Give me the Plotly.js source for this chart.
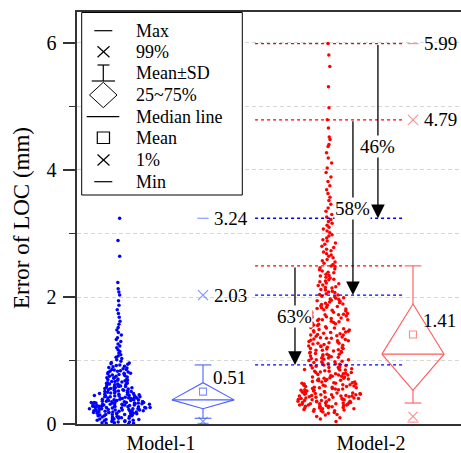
<!DOCTYPE html>
<html><head><meta charset="utf-8">
<script src="https://cdn.plot.ly/plotly-3.0.1.min.js"></script>
<style>html,body{margin:0;padding:0;background:#fff}#chart{width:461px;height:453px}</style>
</head><body><div id="chart"></div>
<script>
// ---------- data ----------
const categories = ['Model-1', 'Model-2'];

const model1Values = [
0.00,0.01,0.01,0.02,0.02,0.03,0.03,0.04,0.04,0.05,0.05,0.05,0.06,0.06,0.07,0.07,0.08,0.08,0.08,0.09,
0.09,0.10,0.10,0.11,0.11,0.11,0.12,0.12,0.13,0.13,0.13,0.14,0.14,0.15,0.15,0.15,0.16,0.16,0.16,0.17,
0.17,0.17,0.18,0.18,0.18,0.19,0.19,0.19,0.19,0.20,0.20,0.20,0.21,0.21,0.21,0.21,0.22,0.22,0.22,0.22,
0.23,0.23,0.23,0.23,0.24,0.24,0.24,0.24,0.25,0.25,0.25,0.25,0.26,0.26,0.26,0.26,0.27,0.27,0.27,0.27,
0.28,0.28,0.28,0.28,0.29,0.29,0.29,0.29,0.30,0.30,0.30,0.30,0.31,0.31,0.31,0.31,0.32,0.32,0.32,0.32,
0.33,0.33,0.33,0.33,0.34,0.34,0.34,0.34,0.35,0.35,0.35,0.35,0.36,0.36,0.36,0.37,0.37,0.37,0.37,0.38,
0.38,0.38,0.39,0.39,0.39,0.40,0.40,0.40,0.41,0.41,0.41,0.42,0.42,0.42,0.43,0.43,0.43,0.44,0.44,0.44,
0.45,0.45,0.45,0.46,0.46,0.47,0.47,0.47,0.48,0.48,0.49,0.49,0.49,0.50,0.50,0.51,0.51,0.51,0.52,0.52,
0.53,0.53,0.54,0.54,0.55,0.55,0.56,0.56,0.57,0.57,0.58,0.58,0.59,0.59,0.60,0.60,0.61,0.61,0.62,0.62,
0.63,0.63,0.64,0.64,0.65,0.65,0.66,0.67,0.67,0.68,0.69,0.69,0.70,0.71,0.71,0.72,0.73,0.73,0.74,0.75,
0.75,0.76,0.77,0.78,0.78,0.79,0.80,0.80,0.81,0.82,0.83,0.83,0.84,0.85,0.86,0.86,0.87,0.88,0.89,0.90,
0.91,0.92,0.93,0.94,0.95,0.96,0.97,0.99,
1.01,1.03,1.05,1.07,1.09,1.12,1.14,1.17,1.20,1.23,1.26,1.30,1.33,1.36,1.40,1.44,1.48,1.52,1.57,1.62,
1.68,1.74,1.80,1.87,1.94,2.03,2.08,2.13,2.23,2.64,2.89,3.24
];

const model2Values = [
0.04,0.08,0.10,0.12,0.14,0.15,0.17,0.18,0.19,0.20,0.21,0.21,0.22,0.23,0.23,0.24,0.24,0.25,0.25,0.26,
0.26,0.27,0.27,0.28,0.28,0.28,0.29,0.29,0.30,0.30,0.30,0.31,0.31,0.32,0.32,0.32,0.33,0.33,0.34,0.34,
0.34,0.35,0.35,0.36,0.36,0.36,0.37,0.37,0.38,0.38,0.38,0.39,0.39,0.40,0.40,0.40,0.41,0.41,0.42,0.42,
0.42,0.43,0.43,0.44,0.44,0.44,0.45,0.45,0.46,0.46,0.46,0.47,0.47,0.48,0.48,0.48,0.49,0.49,0.50,0.50,
0.51,0.51,0.52,0.52,0.53,0.53,0.54,0.54,0.55,0.55,0.56,0.56,0.57,0.57,0.58,0.58,0.59,0.59,0.60,0.60,
0.61,0.61,0.62,0.62,0.63,0.63,0.64,0.64,0.65,0.65,0.66,0.66,0.67,0.68,0.68,0.69,0.69,0.70,0.71,0.71,
0.72,0.72,0.73,0.74,0.74,0.75,0.75,0.76,0.77,0.77,0.78,0.79,0.79,0.80,0.81,0.81,0.82,0.83,0.83,0.84,
0.85,0.85,0.86,0.87,0.87,0.88,0.89,0.89,
0.90,0.91,0.92,0.92,0.93,0.94,0.95,0.95,0.96,0.97,0.98,0.98,0.99,1.00,1.01,1.01,1.02,1.03,1.04,1.04,
1.05,1.06,1.07,1.07,1.08,1.09,1.10,1.10,1.11,1.12,1.13,1.13,1.14,1.15,1.16,1.16,1.17,1.18,1.19,1.19,
1.20,1.21,1.22,1.23,1.23,1.24,1.25,1.26,1.27,1.27,1.28,1.29,1.30,1.31,1.31,1.32,1.33,1.34,1.35,1.35,
1.36,1.37,1.38,1.39,1.40,1.40,1.41,1.42,1.43,1.44,1.45,1.45,1.46,1.47,1.48,1.49,1.50,1.51,1.51,1.52,
1.53,1.54,1.55,1.56,1.57,1.57,1.58,1.59,1.60,1.61,1.62,1.63,1.64,1.64,1.65,1.66,1.67,1.68,1.69,1.70,
1.71,1.72,1.72,1.73,1.74,1.75,1.76,1.77,1.78,1.79,1.80,1.81,1.82,1.83,1.84,1.85,1.86,1.87,1.88,1.89,
1.90,1.91,1.92,1.93,1.94,1.95,1.96,1.97,1.98,1.99,
2.00,2.01,2.03,2.04,2.05,2.07,2.08,2.09,2.11,2.12,2.14,2.15,2.16,2.18,2.19,2.21,2.22,2.24,2.25,2.27,
2.28,2.30,2.31,2.33,2.34,2.36,2.38,2.39,2.41,2.43,2.44,2.46,2.48,2.49,
2.51,2.53,2.55,2.57,2.59,2.62,2.64,2.66,2.68,2.71,2.73,2.75,2.78,2.80,2.83,2.85,2.88,2.90,2.93,2.96,
2.98,3.01,3.04,3.07,3.10,3.13,3.16,3.19,
3.22,3.26,3.30,3.35,3.40,3.46,3.52,3.57,3.63,3.69,3.75,3.82,3.89,3.96,4.03,4.11,4.19,4.27,4.37,4.40,
4.48,4.52,4.66,4.79,4.98,5.31,5.63,5.81,5.99
];

// summary statistics per model (Model-1, Model-2)
const statMax    = [3.24, 5.99];
const statP99    = [2.03, 4.79];
const statMean   = [0.51, 1.41];
const statSD     = [0.42, 1.08];
const statQ1     = [0.24, 0.53];
const statMedian = [0.38, 1.10];
const statQ3     = [0.65, 1.89];
const statP1     = [0.04, 0.12];
const statMin    = [0.01, 0.03];

const dropLabels = ['46%', '58%', '63%'];
const legendLabels = ['Max', '99%', 'Mean±SD', '25~75%', 'Median line', 'Mean', '1%', 'Min'];

// ---------- styling / layout constants ----------
const FONT = 'Liberation Serif';
const pointColors = ['#0000ff', '#ff0000'];
const boxColors = ['#4a62ff', '#ff5a5a'];
const swarmBands = [
  [{lo: -1, hi: 0.5, w: 0.30}, {lo: 0.5, hi: 0.98, w: 0.17}, {lo: 0.98, hi: 99, w: 0.035}],
  [{lo: -1, hi: 0.9, w: 0.30}, {lo: 0.9, hi: 2.0, w: 0.21}, {lo: 2.0, hi: 2.5, w: 0.11},
   {lo: 2.5, hi: 3.2, w: 0.075}, {lo: 3.2, hi: 99, w: 0.035}]
];
const HW = 0.148;   // diamond half width
const CW = 0.04;    // whisker cap half width
const seriesVals = [model1Values, model2Values];

const traces = [];
// jittered points (plotly's own density-scaled jitter)
seriesVals.forEach((vals, i) => {
  swarmBands[i].forEach(b => {
    traces.push({
      type: 'box', y: vals.filter(v => v >= b.lo && v < b.hi), x0: i + 1 - 0.2, width: b.w,
      boxpoints: 'all', jitter: 1, pointpos: 0, whiskerwidth: 0,
      marker: {color: pointColors[i], size: 3.5}, line: {width: 0, color: 'rgba(0,0,0,0)'},
      fillcolor: 'rgba(0,0,0,0)', showlegend: false, hoverinfo: 'skip'
    });
  });
});
// box statistics: diamond (25~75%), median line, Mean±SD whiskers, markers
categories.forEach((c, i) => {
  const xc = i + 1 + 0.2;
  const up = statMean[i] + statSD[i], lo = statMean[i] - statSD[i];
  traces.push({
    type: 'scatter', mode: 'lines', showlegend: false, hoverinfo: 'skip',
    x: [xc - HW, xc, xc + HW, xc, xc - HW, null, xc - HW, xc + HW, null, xc, xc, null, xc - CW, xc + CW, null, xc, xc, null, xc - CW, xc + CW],
    y: [statMedian[i], statQ3[i], statMedian[i], statQ1[i], statMedian[i], null, statMedian[i], statMedian[i], null,
        statQ3[i], up, null, up, up, null, statQ1[i], lo, null, lo, lo],
    line: {color: boxColors[i], width: 1.1}
  });
  traces.push({
    type: 'scatter', mode: 'markers', showlegend: false, hoverinfo: 'skip',
    x: [xc, xc, xc, xc, xc],
    y: [statMean[i], statMax[i], statP99[i], statP1[i], statMin[i]],
    marker: {symbol: ['square-open', 'line-ew-open', 'x-thin-open', 'x-thin-open', 'line-ew-open'],
             size: [7, 8, 10, 9, 8], color: boxColors[i], line: {color: boxColors[i], width: 1.1}}
  });
});

// ---------- shapes & annotations ----------
const shapes = [];
const annotations = [];
const lineX0 = 1.448, lineX1 = 2.148;
const refFrom = [statMax[1], statP99[1], statMean[1] + statSD[1]];
const refTo = [statMax[0], statP99[0], statMean[0] + statSD[0]];
refFrom.forEach(v => shapes.push({type: 'line', xref: 'x', yref: 'y', x0: lineX0, x1: lineX1, y0: v, y1: v,
  line: {color: '#ff0000', width: 1.3, dash: 'dot'}}));
refTo.forEach(v => shapes.push({type: 'line', xref: 'x', yref: 'y', x0: lineX0, x1: lineX1, y0: v, y1: v,
  line: {color: '#0000ff', width: 1.3, dash: 'dot'}}));

const arrowX = [2.033, 1.914, 1.638];
const labelY = [4.37, 3.40, 1.69];
dropLabels.forEach((t, k) => {
  annotations.push({x: arrowX[k], y: refTo[k], ax: arrowX[k], ay: refFrom[k], axref: 'x', ayref: 'y',
    xref: 'x', yref: 'y', text: '', showarrow: true, arrowhead: 2, arrowsize: 2.1, arrowwidth: 1.3,
    arrowcolor: '#000', standoff: 0});
  annotations.push({x: arrowX[k], y: labelY[k], xref: 'x', yref: 'y', text: t, showarrow: false,
    bgcolor: '#fff', borderpad: 0, font: {family: FONT, size: 19, color: '#000'}});
});

categories.forEach((c, i) => {
  const xc = i + 1 + 0.2;
  [statMax[i], statP99[i]].forEach(v => annotations.push({x: xc + 0.042, y: v, xref: 'x', yref: 'y',
    text: v.toFixed(2), showarrow: false, xanchor: 'left', font: {family: FONT, size: 19, color: '#000'}}));
  annotations.push({x: xc + 0.04, y: statMean[i], xref: 'x', yref: 'y', yshift: 14,
    text: statMean[i].toFixed(2), showarrow: false, xanchor: 'left', font: {family: FONT, size: 19, color: '#000'}});
});

// custom legend (pixel positions converted to paper fractions)
const P = px => (px - 77) / 384;
const Q = py => (424 - py) / 412;
const seg = (x0, y0, x1, y1) => ({type: 'line', xref: 'paper', yref: 'paper', x0: P(x0), y0: Q(y0), x1: P(x1), y1: Q(y1),
  line: {color: '#000', width: 1.2}});
shapes.push({type: 'rect', xref: 'paper', yref: 'paper', x0: P(81.7), x1: P(242.3), y0: Q(195), y1: Q(12.5),
  line: {color: '#000', width: 1}, fillcolor: '#fff'});
const rowY = [30.7, 51.7, 72.7, 95, 116.7, 137.7, 160, 181.7];
const cx = 103.3;
shapes.push(seg(94.3, rowY[0], 112.3, rowY[0]));
shapes.push(seg(97.5, rowY[1] - 5.5, 109.5, rowY[1] + 5.5), seg(97.5, rowY[1] + 5.5, 109.5, rowY[1] - 5.5));
shapes.push(seg(97.5, 65, 109.5, 65), seg(cx, 65, cx, 81), seg(91.7, 81, 115, 81));
shapes.push({type: 'path', xref: 'paper', yref: 'paper',
  path: `M${P(89.5)},${Q(95)} L${P(cx)},${Q(82.3)} L${P(117)},${Q(95)} L${P(cx)},${Q(107.7)} Z`,
  line: {color: '#000', width: 1}});
shapes.push(seg(86.7, rowY[4], 119.3, rowY[4]));
shapes.push({type: 'rect', xref: 'paper', yref: 'paper', x0: P(97.3), x1: P(109.5), y0: Q(143.5), y1: Q(132),
  line: {color: '#000', width: 1.2}});
shapes.push(seg(97.5, rowY[6] - 5.5, 109.5, rowY[6] + 5.5), seg(97.5, rowY[6] + 5.5, 109.5, rowY[6] - 5.5));
shapes.push(seg(94.3, rowY[7], 112.3, rowY[7]));
legendLabels.forEach((t, k) => annotations.push({xref: 'paper', yref: 'paper', x: P(134), y: Q(rowY[k]),
  xanchor: 'left', yanchor: 'middle', text: t, showarrow: false, font: {family: FONT, size: 18, color: '#000'}}));

const layout = {
  width: 461, height: 453,
  margin: {l: 77, r: 0, t: 12, b: 29},
  paper_bgcolor: '#fff', plot_bgcolor: '#fff',
  font: {family: FONT, color: '#000'},
  showlegend: false,
  xaxis: {range: [0.6, 2.4286], tickvals: [1, 2], ticktext: categories, ticks: '',
    showline: true, mirror: true, linecolor: '#333', linewidth: 1.6, showgrid: false, zeroline: false,
    tickfont: {family: FONT, size: 20, color: '#000'}, ticklabelstandoff: 0},
  yaxis: {range: [0, 6.488], tick0: 0, dtick: 2, ticks: 'outside', ticklen: 12, tickwidth: 1.5, tickcolor: '#333',
    showline: true, linecolor: '#333', linewidth: 1.6, zeroline: false,
    showgrid: true, gridcolor: '#d6d6d6', gridwidth: 1, griddash: '4px,3px',
    minor: {dtick: 1, ticks: 'outside', ticklen: 6, tickwidth: 1.5, tickcolor: '#333',
      showgrid: true, gridcolor: '#d6d6d6', gridwidth: 1, griddash: '4px,3px'},
    tickfont: {family: FONT, size: 20, color: '#000'}, ticklabelstandoff: 3,
    title: {text: 'Error of LOC (mm)', font: {family: FONT, size: 23, color: '#000'}, standoff: 10}},
  shapes: shapes,
  annotations: annotations
};

Plotly.newPlot('chart', traces, layout, {staticPlot: true, displayModeBar: false});
</script>
</body></html>
